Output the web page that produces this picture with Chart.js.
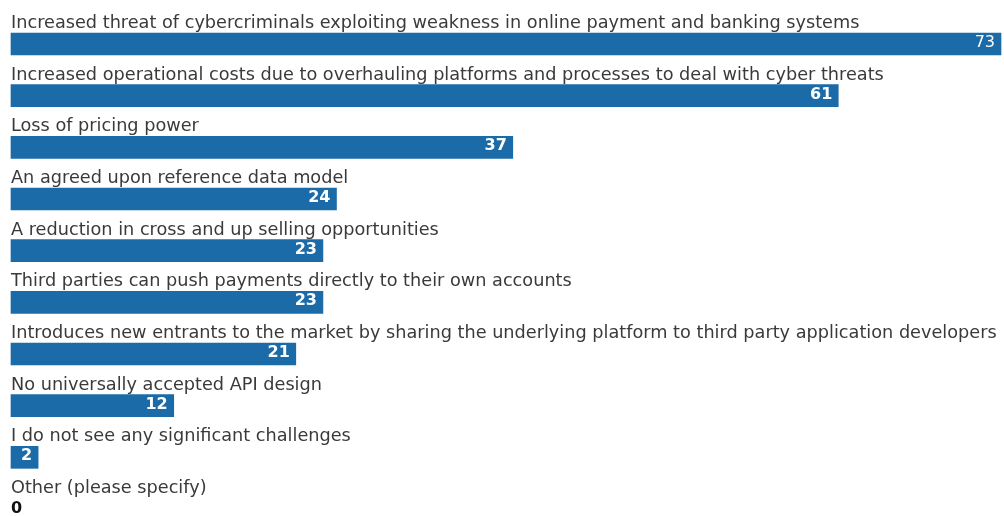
<!DOCTYPE html>
<html>
<head>
<meta charset="utf-8">
<script src="https://cdn.jsdelivr.net/npm/chart.js@4"></script>
<style>
  html, body { margin: 0; padding: 0; background: #fff; }
  #wrap { width: 1004px; height: 516px; }
</style>
</head>
<body>
<div id="wrap"><canvas id="chart" width="1004" height="516"></canvas></div>
<script>
// Survey answers and counts
const CATEGORIES = [
    'Increased threat of cybercriminals exploiting weakness in online payment and banking systems',
    'Increased operational costs due to overhauling platforms and processes to deal with cyber threats',
    'Loss of pricing power',
    'An agreed upon reference data model',
    'A reduction in cross and up selling opportunities',
    'Third parties can push payments directly to their own accounts',
    'Introduces new entrants to the market by sharing the underlying platform to third party application developers',
    'No universally accepted API design',
    'I do not see any significant challenges',
    'Other (please specify)'
];
const VALUES = [73, 61, 37, 24, 23, 23, 21, 12, 2, 0];

const BAR_COLOR = 'rgb(26, 107, 168)';
const TEXT_COLOR = '#3a3a3a';
const FONT = '"DejaVu Sans", sans-serif';

// draws the answer text above each bar and the count at its end
const barLabels = {
    id: 'barLabels',
    afterDatasetsDraw(chart) {
        const ctx = chart.ctx;
        const meta = chart.getDatasetMeta(0);
        ctx.save();
        meta.data.forEach((bar, i) => {
            ctx.fillStyle = TEXT_COLOR;
            ctx.font = '17.7px ' + FONT;
            ctx.textAlign = 'left';
            ctx.textBaseline = 'alphabetic';
            ctx.fillText(CATEGORIES[i], chart.chartArea.left, bar.y - 16);

            const v = VALUES[i];
            ctx.textBaseline = 'middle';
            if (v === 0) {
                ctx.font = 'bold 16px ' + FONT;
                ctx.fillStyle = '#111';
                ctx.textAlign = 'left';
                ctx.fillText(v, bar.base, bar.y);
            } else {
                ctx.font = (i === 0 ? '' : 'bold ') + '16px ' + FONT;
                ctx.fillStyle = '#fff';
                ctx.textAlign = 'right';
                ctx.fillText(v, bar.x - 6, bar.y - 1);
            }
        });
        ctx.restore();
    }
};

new Chart(document.getElementById('chart'), {
    type: 'bar',
    data: {
        labels: CATEGORIES,
        datasets: [{
            data: VALUES,
            backgroundColor: c => c.raw === 0 ? 'rgba(0,0,0,0)' : BAR_COLOR,
            barThickness: 22,
            borderWidth: 0,
            clip: false
        }]
    },
    options: {
        indexAxis: 'y',
        responsive: false,
        animation: false,
        layout: { padding: { left: 11, right: 3, top: 44, bottom: 7 } },
        plugins: {
            legend: { display: false },
            tooltip: { enabled: false }
        },
        scales: {
            x: { display: false, min: 0, max: 73 },
            y: { display: false, offset: false }
        }
    },
    plugins: [barLabels]
});
</script>
</body>
</html>
